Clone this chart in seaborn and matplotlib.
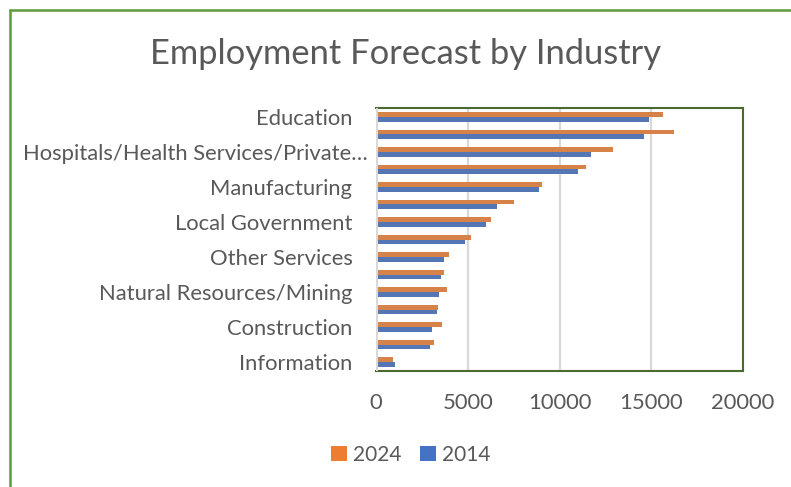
import matplotlib
matplotlib.use("Agg")
import matplotlib.pyplot as plt
from matplotlib.lines import Line2D
from matplotlib.patches import Patch
from matplotlib.transforms import ScaledTranslation
import pandas as pd
import seaborn as sns

industries = [
    "Education",
    "Retail Trade",
    "Hospitals/Health Services/Private…",
    "Leisure and Hospitality",
    "Manufacturing",
    "Professional/Business Services",
    "Local Government",
    "State Government",
    "Other Services",
    "Financial Activities",
    "Natural Resources/Mining",
    "Wholesale Trade",
    "Construction",
    "Transportation/Utilities",
    "Information",
]
jobs_2024 = [15640, 16260, 12920, 11450, 9050, 7540, 6270, 5180,
             4000, 3690, 3880, 3390, 3600, 3150, 920]
jobs_2014 = [14900, 14620, 11700, 10990, 8890, 6620, 5980, 4840,
             3730, 3530, 3420, 3300, 3040, 2930, 1040]
years = ["2024", "2014"]
x_ticks = [0, 5000, 10000, 15000, 20000]

ORANGE = "#ED7D31"
BLUE = "#4472C4"
TEXT = "#595959"
GRID = "#D9D9D9"
FS = 15.8

df = pd.DataFrame({
    "industry": industries * 2,
    "year": [years[0]] * len(industries) + [years[1]] * len(industries),
    "jobs": jobs_2024 + jobs_2014,
})

sns.set_theme(style="white")
plt.rcParams["font.family"] = ["Lato", "DejaVu Sans"]

W, H = 791, 487
fig = plt.figure(figsize=(W / 100, H / 100), dpi=100)
ax = fig.add_axes([376 / W, 1 - 371 / H, (743 - 376) / W, (371 - 108) / H])

sns.barplot(data=df, x="jobs", y="industry", hue="year", order=industries,
            hue_order=years, palette=[ORANGE, BLUE], orient="h", width=0.54,
            linewidth=0, ax=ax, legend=False, zorder=3)

ax.set_xlim(0, 20000)
ax.set_ylim(len(industries) - 0.5, -0.5)
ax.set_xlabel("")
ax.set_ylabel("")

# vertical gridlines and the category axis line
for v in x_ticks[1:-1]:
    ax.axvline(v, color=GRID, lw=1.6, zorder=1)
ax.axvline(0, color=GRID, lw=2.2, zorder=4)

ax.set_xticks(x_ticks)
ax.set_xticklabels([str(v) for v in x_ticks])
ax.set_yticks(range(0, len(industries), 2))
ax.set_yticklabels(industries[::2])
ax.tick_params(axis="y", length=0, pad=17, labelsize=FS, labelcolor=TEXT)
ax.tick_params(axis="x", length=0, pad=16, labelsize=FS, labelcolor=TEXT)

# the truncated label keeps its ellipsis past the right-aligned edge
for lab in ax.get_yticklabels():
    if lab.get_text().endswith("…"):
        lab.set_transform(lab.get_transform()
                          + ScaledTranslation(15 / 100, 0, fig.dpi_scale_trans))

for side in ["top", "right", "bottom"]:
    ax.spines[side].set_color("#4A6A2E")
    ax.spines[side].set_linewidth(1.5)
ax.spines["left"].set_visible(False)

fig.text(406 / W, 1 - 54 / H, "Employment Forecast by Industry",
         ha="center", va="center", fontsize=24.8, color=TEXT)

# outer chart frame
frame_col = "#5E9A3A"
fig.add_artist(Line2D([10 / W, 10 / W], [0, 1 - 10 / H], color=frame_col,
                      lw=1.8, transform=fig.transFigure))
fig.add_artist(Line2D([10 / W, 1], [1 - 10 / H, 1 - 10 / H], color=frame_col,
                      lw=1.8, transform=fig.transFigure))

handles = [Patch(facecolor=ORANGE, edgecolor="none", label=years[0]),
           Patch(facecolor=BLUE, edgecolor="none", label=years[1])]
fig.legend(handles=handles, loc="center", bbox_to_anchor=(411 / W, 1 - 455 / H),
           ncol=2, frameon=False, fontsize=15, labelcolor=TEXT,
           handlelength=0.75, handleheight=0.75, handletextpad=0.3,
           columnspacing=0.9)

fig.savefig("out.png", dpi=100, facecolor="white")
